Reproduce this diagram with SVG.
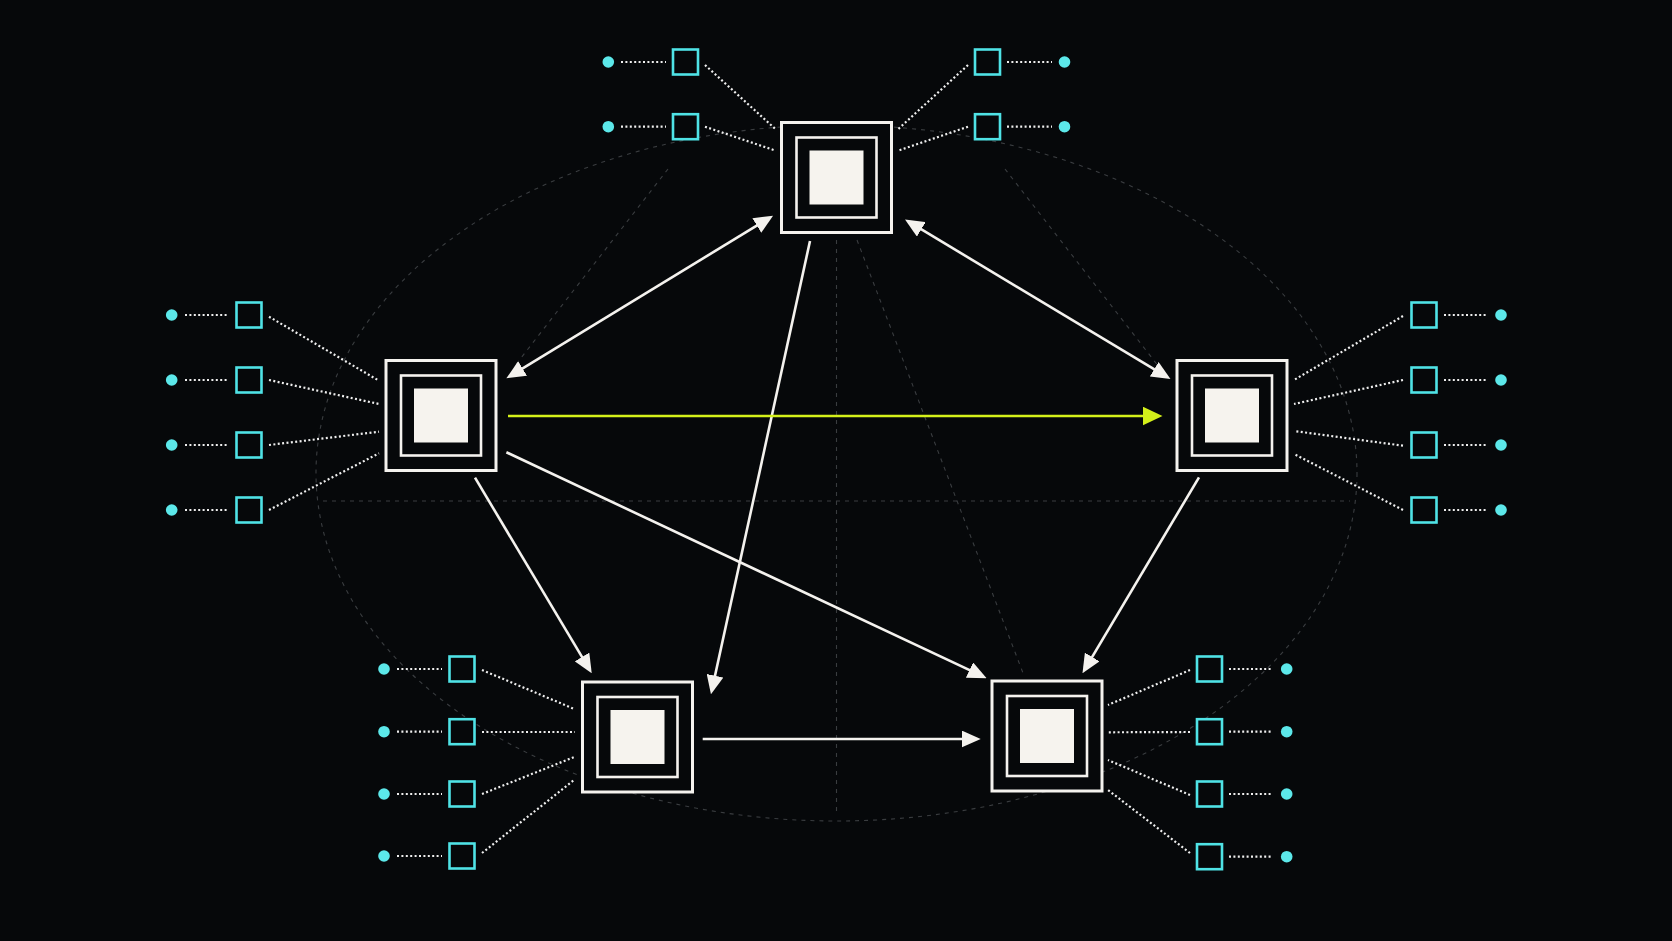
<svg xmlns="http://www.w3.org/2000/svg" width="1672" height="941" viewBox="0 0 1672 941">
<defs>
<style>
.bg{fill:#06080a}
.guide{fill:none;stroke:#3a3d40;stroke-width:1.1;stroke-dasharray:4 5}
.outer{fill:#06080a;stroke:#f4f2ee;stroke-width:3}
.mid{fill:#06080a;stroke:#f4f2ee;stroke-width:2.6}
.core{fill:#f6f3ee}
.port{fill:#06080a;stroke:#4fe3e6;stroke-width:2.6}
.pin{fill:#5ce8ea}
.dot{fill:none;stroke:#eeeeee;stroke-width:2.2;stroke-dasharray:2 2.4}
.edge{fill:none;stroke:#f4f2ee;stroke-width:2.6}
.hot{fill:none;stroke:#d4f01a;stroke-width:2.6}
</style>
<marker id="ah" viewBox="0 0 19 17" refX="9" refY="8.5" markerWidth="19" markerHeight="17" markerUnits="userSpaceOnUse" orient="auto-start-reverse">
<path d="M0,0 L19,8.5 L0,17 z" fill="#f4f2ee"/>
</marker>
<marker id="ahy" viewBox="0 0 20 19" refX="10" refY="9.5" markerWidth="20" markerHeight="19" markerUnits="userSpaceOnUse" orient="auto">
<path d="M0,0 L20,9.5 L0,19 z" fill="#d4f01a"/>
</marker>
</defs>
<rect class="bg" x="0" y="0" width="1672" height="941"/>

<g id="guides">
<ellipse class="guide" cx="836.5" cy="473" rx="520.5" ry="348"/>
<line class="guide" x1="323" y1="501" x2="1350" y2="501"/>
<line class="guide" x1="836.5" y1="240" x2="836.5" y2="813"/>
<line class="guide" x1="857" y1="240" x2="1023" y2="673"/>
<line class="guide" x1="668" y1="169" x2="514" y2="367"/>
<line class="guide" x1="1005" y1="169" x2="1159" y2="367"/>
</g>

<g id="port-links">
<line class="dot" x1="621" y1="62" x2="666" y2="62"/>
<line class="dot" x1="621" y1="126.7" x2="666" y2="126.7"/>
<line class="dot" x1="705" y1="65" x2="775.7" y2="129.3"/>
<line class="dot" x1="705" y1="126.7" x2="775.7" y2="150.7"/>
<line class="dot" x1="1007" y1="62" x2="1052" y2="62"/>
<line class="dot" x1="1007" y1="126.7" x2="1052" y2="126.7"/>
<line class="dot" x1="968" y1="65" x2="898" y2="129.3"/>
<line class="dot" x1="968" y1="126.7" x2="898" y2="150.7"/>

<line class="dot" x1="185" y1="315" x2="229" y2="315"/>
<line class="dot" x1="185" y1="380" x2="229" y2="380"/>
<line class="dot" x1="185" y1="445" x2="229" y2="445"/>
<line class="dot" x1="185" y1="510" x2="229" y2="510"/>
<line class="dot" x1="269" y1="316.7" x2="379" y2="380.7"/>
<line class="dot" x1="269" y1="380" x2="379" y2="404"/>
<line class="dot" x1="269" y1="445" x2="379" y2="431.7"/>
<line class="dot" x1="269" y1="510" x2="379" y2="453.3"/>

<line class="dot" x1="1444" y1="315" x2="1488" y2="315"/>
<line class="dot" x1="1444" y1="380" x2="1488" y2="380"/>
<line class="dot" x1="1444" y1="445" x2="1488" y2="445"/>
<line class="dot" x1="1444" y1="510" x2="1488" y2="510"/>
<line class="dot" x1="1403" y1="316" x2="1294" y2="380"/>
<line class="dot" x1="1403" y1="380" x2="1294" y2="404"/>
<line class="dot" x1="1403" y1="445.7" x2="1294" y2="431"/>
<line class="dot" x1="1403" y1="510" x2="1294" y2="454"/>

<line class="dot" x1="397" y1="669" x2="442" y2="669"/>
<line class="dot" x1="397" y1="731.7" x2="442" y2="731.7"/>
<line class="dot" x1="397" y1="794" x2="442" y2="794"/>
<line class="dot" x1="397" y1="856" x2="442" y2="856"/>
<line class="dot" x1="482" y1="670" x2="575" y2="709.3"/>
<line class="dot" x1="482" y1="732" x2="575" y2="732"/>
<line class="dot" x1="482" y1="794" x2="575" y2="756.7"/>
<line class="dot" x1="482" y1="853" x2="575" y2="779.3"/>

<line class="dot" x1="1229" y1="669" x2="1273" y2="669"/>
<line class="dot" x1="1229" y1="731.7" x2="1273" y2="731.7"/>
<line class="dot" x1="1229" y1="794" x2="1273" y2="794"/>
<line class="dot" x1="1229" y1="856.7" x2="1273" y2="856.7"/>
<line class="dot" x1="1190" y1="670" x2="1108" y2="705"/>
<line class="dot" x1="1190" y1="732" x2="1108" y2="732.3"/>
<line class="dot" x1="1190" y1="795" x2="1108" y2="760"/>
<line class="dot" x1="1190" y1="853" x2="1108" y2="790"/>
</g>

<g id="connectors">
<line class="edge" x1="514.9" y1="373.1" x2="764.5" y2="220.9" marker-start="url(#ah)" marker-end="url(#ah)"/>
<line class="edge" x1="913.6" y1="224.7" x2="1161.9" y2="373.9" marker-start="url(#ah)" marker-end="url(#ah)"/>
<line class="edge" x1="810" y1="241" x2="713.1" y2="684.5" marker-end="url(#ah)"/>
<line class="edge" x1="475" y1="477.7" x2="586.6" y2="664.7" marker-end="url(#ah)"/>
<line class="edge" x1="506.4" y1="452.3" x2="977.6" y2="673.9" marker-end="url(#ah)"/>
<line class="edge" x1="1199" y1="477.3" x2="1087.6" y2="664.7" marker-end="url(#ah)"/>
<line class="edge" x1="702.7" y1="739" x2="970.7" y2="739" marker-end="url(#ah)"/>
<line class="hot" x1="508" y1="416" x2="1152.5" y2="416" marker-end="url(#ahy)"/>
</g>

<g id="node-top">
<rect class="outer" x="781.5" y="122.5" width="110" height="110"/>
<rect class="mid" x="796.5" y="137.5" width="80" height="80"/>
<rect class="core" x="809.5" y="150.5" width="54" height="54"/>
</g>
<g id="node-left">
<rect class="outer" x="386" y="360.5" width="110" height="110"/>
<rect class="mid" x="401" y="375.5" width="80" height="80"/>
<rect class="core" x="414" y="388.5" width="54" height="54"/>
</g>
<g id="node-right">
<rect class="outer" x="1177" y="360.5" width="110" height="110"/>
<rect class="mid" x="1192" y="375.5" width="80" height="80"/>
<rect class="core" x="1205" y="388.5" width="54" height="54"/>
</g>
<g id="node-bottom-left">
<rect class="outer" x="582.5" y="682" width="110" height="110"/>
<rect class="mid" x="597.5" y="697" width="80" height="80"/>
<rect class="core" x="610.5" y="710" width="54" height="54"/>
</g>
<g id="node-bottom-right">
<rect class="outer" x="992" y="681" width="110" height="110"/>
<rect class="mid" x="1007" y="696" width="80" height="80"/>
<rect class="core" x="1020" y="709" width="54" height="54"/>
</g>

<g id="ports-top">
<rect class="port" x="673" y="49.5" width="25" height="25"/>
<rect class="port" x="673" y="114.2" width="25" height="25"/>
<circle class="pin" cx="608.3" cy="62" r="5.8"/>
<circle class="pin" cx="608.3" cy="126.7" r="5.8"/>
<rect class="port" x="975" y="49.5" width="25" height="25"/>
<rect class="port" x="975" y="114.2" width="25" height="25"/>
<circle class="pin" cx="1064.5" cy="62" r="5.8"/>
<circle class="pin" cx="1064.5" cy="126.7" r="5.8"/>
</g>
<g id="ports-left">
<rect class="port" x="236.5" y="302.5" width="25" height="25"/>
<rect class="port" x="236.5" y="367.5" width="25" height="25"/>
<rect class="port" x="236.5" y="432.5" width="25" height="25"/>
<rect class="port" x="236.5" y="497.5" width="25" height="25"/>
<circle class="pin" cx="171.7" cy="315" r="5.8"/>
<circle class="pin" cx="171.7" cy="380" r="5.8"/>
<circle class="pin" cx="171.7" cy="445" r="5.8"/>
<circle class="pin" cx="171.7" cy="510" r="5.8"/>
</g>
<g id="ports-right">
<rect class="port" x="1411.5" y="302.5" width="25" height="25"/>
<rect class="port" x="1411.5" y="367.5" width="25" height="25"/>
<rect class="port" x="1411.5" y="432.5" width="25" height="25"/>
<rect class="port" x="1411.5" y="497.5" width="25" height="25"/>
<circle class="pin" cx="1501" cy="315" r="5.8"/>
<circle class="pin" cx="1501" cy="380" r="5.8"/>
<circle class="pin" cx="1501" cy="445" r="5.8"/>
<circle class="pin" cx="1501" cy="510" r="5.8"/>
</g>
<g id="ports-bottom-left">
<rect class="port" x="449.5" y="656.5" width="25" height="25"/>
<rect class="port" x="449.5" y="719.2" width="25" height="25"/>
<rect class="port" x="449.5" y="781.5" width="25" height="25"/>
<rect class="port" x="449.5" y="843.5" width="25" height="25"/>
<circle class="pin" cx="384" cy="669" r="5.8"/>
<circle class="pin" cx="384" cy="731.7" r="5.8"/>
<circle class="pin" cx="384" cy="794" r="5.8"/>
<circle class="pin" cx="384" cy="856" r="5.8"/>
</g>
<g id="ports-bottom-right">
<rect class="port" x="1197" y="656.5" width="25" height="25"/>
<rect class="port" x="1197" y="719.2" width="25" height="25"/>
<rect class="port" x="1197" y="781.5" width="25" height="25"/>
<rect class="port" x="1197" y="844.2" width="25" height="25"/>
<circle class="pin" cx="1286.7" cy="669" r="5.8"/>
<circle class="pin" cx="1286.7" cy="731.7" r="5.8"/>
<circle class="pin" cx="1286.7" cy="794" r="5.8"/>
<circle class="pin" cx="1286.7" cy="856.7" r="5.8"/>
</g>
</svg>
